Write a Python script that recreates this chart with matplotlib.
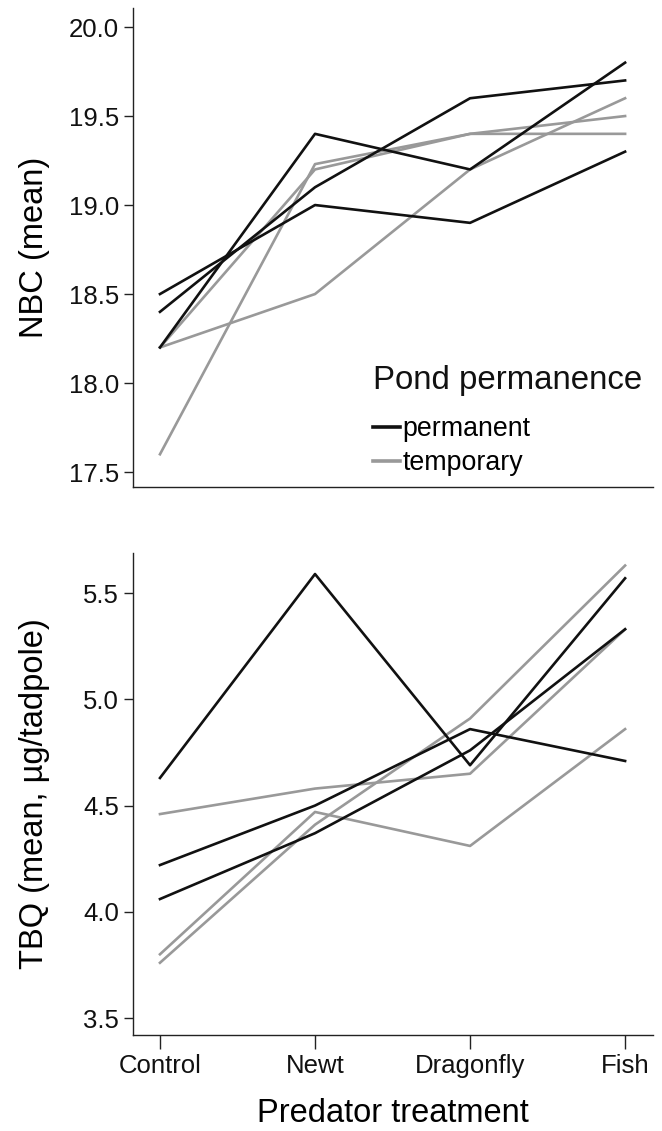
import matplotlib.pyplot as plt
from matplotlib.lines import Line2D

plt.rcParams['font.family'] = ['Liberation Sans', 'DejaVu Sans']

categories = ["Control", "Newt", "Dragonfly", "Fish"]

# NBC (mean), one row per pond
nbc_permanent = [
    [18.5, 19.0, 18.9, 19.3],
    [18.4, 19.1, 19.6, 19.7],
    [18.2, 19.4, 19.2, 19.8],
]
nbc_temporary = [
    [18.2, 18.5, 19.2, 19.6],
    [17.6, 19.23, 19.4, 19.4],
    [18.2, 19.2, 19.4, 19.5],
]

# TBQ (mean, ug/tadpole)
tbq_permanent = [
    [4.63, 5.59, 4.69, 5.57],
    [4.22, 4.50, 4.86, 4.71],
    [4.06, 4.37, 4.76, 5.33],
]
tbq_temporary = [
    [4.46, 4.58, 4.65, 5.33],
    [3.80, 4.47, 4.31, 4.86],
    [3.76, 4.41, 4.91, 5.63],
]

black = "#111111"
grey = "#999999"

W, H = 662, 1131
fig = plt.figure(figsize=(W / 100, H / 100), dpi=100)

def box(left, top, right, bottom):
    return [left / W, 1 - bottom / H, (right - left) / W, (bottom - top) / H]

ax1 = fig.add_axes(box(133, 8, 653, 487))
ax2 = fig.add_axes(box(133, 553, 653, 1035))

x = list(range(len(categories)))

for ax, perm, temp in [(ax1, nbc_permanent, nbc_temporary),
                       (ax2, tbq_permanent, tbq_temporary)]:
    for row in temp:
        ax.plot(x, row, color=grey, lw=1.9)
    for row in perm:
        ax.plot(x, row, color=black, lw=1.9)
    ax.spines['top'].set_visible(False)
    ax.spines['right'].set_visible(False)
    for s in ['left', 'bottom']:
        ax.spines[s].set_linewidth(1.0)
        ax.spines[s].set_color('#222222')
    ax.set_xlim(-0.174, 3.18)
    ax.tick_params(axis='y', labelsize=18.5, length=6.5, width=1.0,
                   pad=3.5, colors='#222222', labelcolor='#111111')

# top panel
ax1.set_ylim(17.416, 20.107)
ax1.set_yticks([17.5, 18.0, 18.5, 19.0, 19.5, 20.0])
ax1.set_yticklabels(["17.5", "18.0", "18.5", "19.0", "19.5", "20.0"])
ax1.set_xticks([])
ax1.set_ylabel("NBC (mean)", fontsize=23.5)
ax1.yaxis.set_label_coords((50 - 133) / 520, 0.5)

handles = [Line2D([], [], color=black, lw=2.6),
           Line2D([], [], color=grey, lw=2.6)]
leg = ax1.legend(handles, ["permanent", "temporary"],
                 loc='upper left', bbox_to_anchor=(373 / W, 1 - 416 / H),
                 bbox_transform=fig.transFigure, frameon=False,
                 fontsize=19.3, handlelength=1.0,
                 handletextpad=0.1, labelspacing=0.3, borderpad=0,
                 borderaxespad=0)
fig.text(373 / W, 1 - 381 / H, "Pond permanence", fontsize=23.8,
         ha='left', va='center', color='#111111')

# bottom panel
ax2.set_ylim(3.42, 5.689)
ax2.set_yticks([3.5, 4.0, 4.5, 5.0, 5.5])
ax2.set_yticklabels(["3.5", "4.0", "4.5", "5.0", "5.5"])
ax2.set_xticks(x)
ax2.set_xticklabels(categories)
ax2.tick_params(axis='x', labelsize=18.5, length=10, width=1.0, pad=4,
                colors='#222222', labelcolor='#111111')
ax2.set_ylabel("TBQ (mean, \u00b5g/tadpole)", fontsize=23.5)
ax2.yaxis.set_label_coords((50 - 133) / 520, 0.5)
ax2.set_xlabel("Predator treatment", fontsize=23.5, labelpad=14)

fig.savefig("out.png", dpi=100)
